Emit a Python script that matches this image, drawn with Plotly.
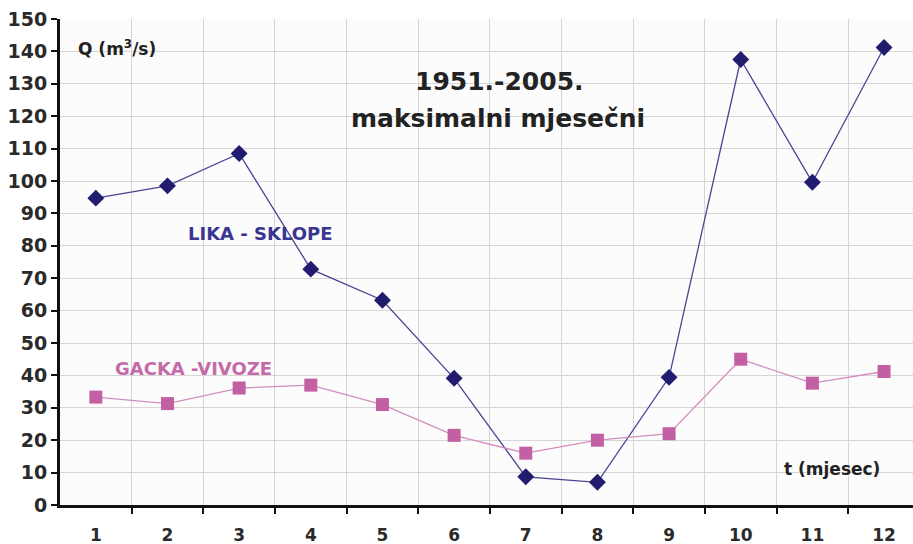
import plotly.graph_objects as go

months = list(range(1, 13))
month_labels = [str(m) for m in months]
lika_sklope = [94.7, 98.5, 108.5, 72.8, 63.2, 39.1, 8.7, 7.0, 39.4, 137.5, 99.6, 141.2]
gacka_vivoze = [33.3, 31.3, 36.1, 37.0, 31.0, 21.5, 16.0, 20.0, 22.0, 45.0, 37.6, 41.2]
y_ticks = list(range(0, 151, 10))

FONT = "DejaVu Sans"
NAVY = "#221c6e"
PINK = "#c35fa3"

fig = go.Figure()
fig.add_trace(go.Scatter(
    x=months, y=lika_sklope, mode="lines+markers",
    line=dict(color="#4a4592", width=1.3),
    marker=dict(symbol="diamond", size=13, color=NAVY),
    name="LIKA - SKLOPE", cliponaxis=False))
fig.add_trace(go.Scatter(
    x=months, y=gacka_vivoze, mode="lines+markers",
    line=dict(color="#d48cbf", width=1.3),
    marker=dict(symbol="square", size=13, color=PINK),
    name="GACKA -VIVOZE", cliponaxis=False))

bold = lambda s, c="#222222": dict(family=FONT, size=s, color=c, weight="bold")

fig.add_annotation(x=0.72, y=141.2, xref="x", yref="y", xanchor="left", yanchor="middle",
                   text="Q (m<sup>3</sup>/s)", showarrow=False, font=bold(17))
fig.add_annotation(x=6.63, y=130.6, xref="x", yref="y", text="1951.-2005.",
                   showarrow=False, font=bold(25))
fig.add_annotation(x=6.61, y=119.3, xref="x", yref="y", text="maksimalni mjesečni",
                   showarrow=False, font=bold(25))
fig.add_annotation(x=3.30, y=83.8, xref="x", yref="y", text="LIKA - SKLOPE",
                   showarrow=False, font=bold(18, "#3a3590"))
fig.add_annotation(x=2.36, y=42.1, xref="x", yref="y", text="GACKA -VIVOZE",
                   showarrow=False, font=bold(18, "#c56aa8"))
fig.add_annotation(x=11.27, y=11.0, xref="x", yref="y", text="t (mjesec)",
                   showarrow=False, font=bold(17))

fig.update_xaxes(
    range=[0.5, 12.404], tickvals=months, ticktext=month_labels,
    ticks="outside", ticklen=13, tickcolor="rgba(0,0,0,0)",
    showgrid=False, zeroline=False, automargin=False,
    showline=True, linecolor="#111111", linewidth=3,
    tickfont=dict(family=FONT, size=17, color="#2a2a2a", weight="bold"),
    minor=dict(tickvals=[m + 0.5 for m in months[:-1]], ticks="outside", ticklen=6,
               tickwidth=2, tickcolor="#111111", showgrid=True,
               gridcolor="#d6d6d6", gridwidth=1),
)
fig.update_yaxes(
    range=[0, 150], tickvals=y_ticks, ticks="outside", ticklen=6, tickwidth=2,
    tickcolor="#111111", showgrid=True, gridcolor="#d6d6d6", gridwidth=1,
    zeroline=False, showline=True, linecolor="#111111", linewidth=3,
    automargin=False,
    tickfont=dict(family=FONT, size=19, color="#2a2a2a", weight="bold"),
)
fig.update_layout(
    width=913, height=544, showlegend=False,
    margin=dict(l=60, r=0, t=19, b=39, pad=0),
    plot_bgcolor="#fcfcfc", paper_bgcolor="white",
)
fig.write_html("out.html", config={"displayModeBar": False},
               post_script="document.body.style.margin='0';document.body.style.overflow='hidden';")
